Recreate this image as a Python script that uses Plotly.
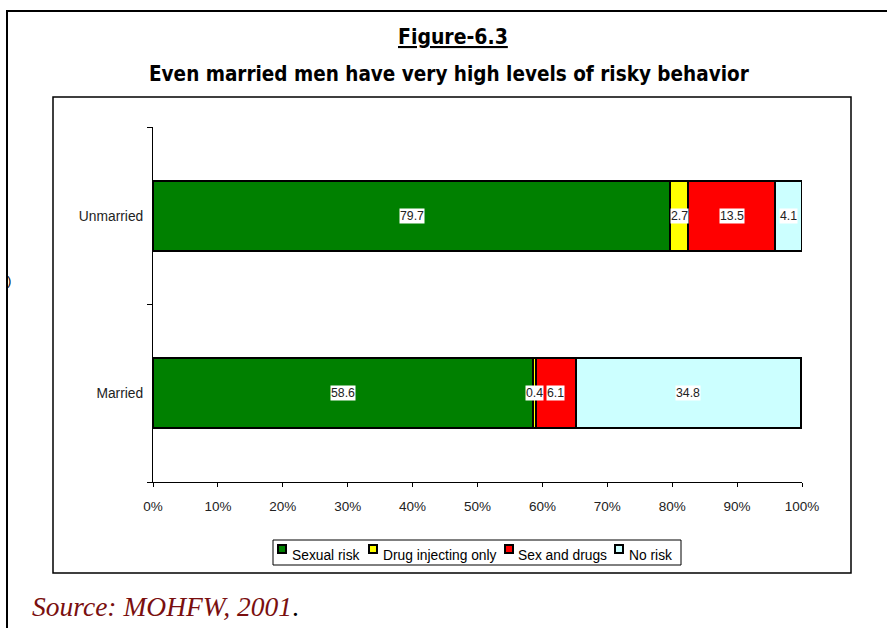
import plotly.graph_objects as go

categories = ["Married", "Unmarried"]
series_names = ["Sexual risk", "Drug injecting only", "Sex and drugs", "No risk"]
sexual_risk = [58.6, 79.7]
drug_only = [0.4, 2.7]
sex_and_drugs = [6.1, 13.5]
no_risk = [34.8, 4.1]
colors = ["#008000", "#FFFF00", "#FF0000", "#CCFFFF"]
x_ticks = [0, 10, 20, 30, 40, 50, 60, 70, 80, 90, 100]

series = [sexual_risk, drug_only, sex_and_drugs, no_risk]

W, H = 887, 628
L, R, T, B = 153, 802, 127, 482

def px(xpix):
    return (xpix - L) / (R - L)

def py(ypix):
    return (B - ypix) / (B - T)

fig = go.Figure()
for name, vals, col in zip(series_names, series, colors):
    fig.add_trace(go.Bar(
        y=categories, x=vals, name=name, orientation="h",
        marker=dict(color=col, line=dict(color="black", width=2)),
        hoverinfo="x+name", showlegend=False,
    ))

annotations = []
for ci, cat in enumerate(categories):
    cum = 0
    for vals in series:
        v = vals[ci]
        annotations.append(dict(
            x=cum + v / 2, y=cat, xref="x", yref="y", text=f"{v:.1f}",
            showarrow=False, bgcolor="white", borderpad=0,
            font=dict(family="Liberation Sans, Arial", size=12.3, color="#222"),
        ))
        cum += v

title_font = "DejaVu Sans Condensed, Liberation Sans Narrow, Arial"
annotations.append(dict(
    x=px(453), y=py(37), xref="paper", yref="paper", text="<b><u>Figure-6.3</u></b>",
    showarrow=False, font=dict(family=title_font, size=21, color="black"),
    xanchor="center", yanchor="middle",
))
annotations.append(dict(
    x=px(449), y=py(74), xref="paper", yref="paper",
    text="<b>Even married men have very high levels of risky behavior</b>",
    showarrow=False, font=dict(family=title_font, size=20.5, color="black"),
    xanchor="center", yanchor="middle",
))
annotations.append(dict(
    x=px(30), y=py(606), xref="paper", yref="paper",
    text="<i><span style='color:#7a0f0f'>Source: MOHFW, 2001</span></i>.",
    showarrow=False, font=dict(family="Liberation Serif, Times New Roman", size=27.5, color="black"),
    xanchor="left", yanchor="middle",
))
annotations.append(dict(
    x=px(9), y=py(280), xref="paper", yref="paper", text=")",
    showarrow=False, font=dict(family="Liberation Sans, Arial", size=13, color="black"),
    xanchor="center", yanchor="middle",
))

shapes = [
    # outer frame
    dict(type="rect", xref="paper", yref="paper", x0=px(7), x1=px(895), y0=py(11), y1=py(640),
         line=dict(color="black", width=2), layer="below"),
    # inner chart frame
    dict(type="rect", xref="paper", yref="paper", x0=px(53), x1=px(851), y0=py(97), y1=py(573),
         line=dict(color="black", width=1.5), layer="below"),
    # legend box
    dict(type="rect", xref="paper", yref="paper", x0=px(273), x1=px(681), y0=py(540), y1=py(565),
         line=dict(color="black", width=1), fillcolor="white", layer="below"),
]

# custom legend (small square keys like the original)
legend_key_x = [278, 369, 505, 615]
legend_text_x = [290, 381, 516, 627]
for name, col, kx, tx in zip(series_names, colors, legend_key_x, legend_text_x):
    shapes.append(dict(type="rect", xref="paper", yref="paper",
                       x0=px(kx), x1=px(kx + 8), y0=py(545), y1=py(553),
                       line=dict(color="black", width=2), fillcolor=col))
    annotations.append(dict(
        x=px(tx), y=py(555), xref="paper", yref="paper", text=name, showarrow=False,
        xanchor="left", yanchor="middle",
        font=dict(family="Liberation Sans, Arial", size=13.8, color="black"),
    ))

fig.update_layout(
    width=W, height=H,
    margin=dict(l=L, r=W - R, t=T, b=H - B),
    barmode="stack", bargap=0.605,
    paper_bgcolor="white", plot_bgcolor="white",
    font=dict(family="Liberation Sans, Arial", size=13.5, color="black"),
    annotations=annotations, shapes=shapes,
    showlegend=False,
    xaxis=dict(
        range=[0, 100], tickvals=x_ticks, ticktext=[f"{t}%" for t in x_ticks],
        showline=True, linecolor="black", linewidth=1, ticks="outside", ticklen=4,
        tickcolor="black", showgrid=False, zeroline=False, ticklabelstandoff=8,
        tickfont=dict(size=13.5, color="#222"),
    ),
    yaxis=dict(
        range=[-0.5, 1.5], showline=True, linecolor="black", linewidth=1,
        ticks="outside", ticklen=5, tickcolor="black", tickson="boundaries",
        showgrid=False, zeroline=False, ticklabelstandoff=6,
        tickfont=dict(size=13.8, color="#222"),
    ),
)

fig.write_html("out.html", post_script="document.body.style.margin='0';",
               config={"displayModeBar": False})
